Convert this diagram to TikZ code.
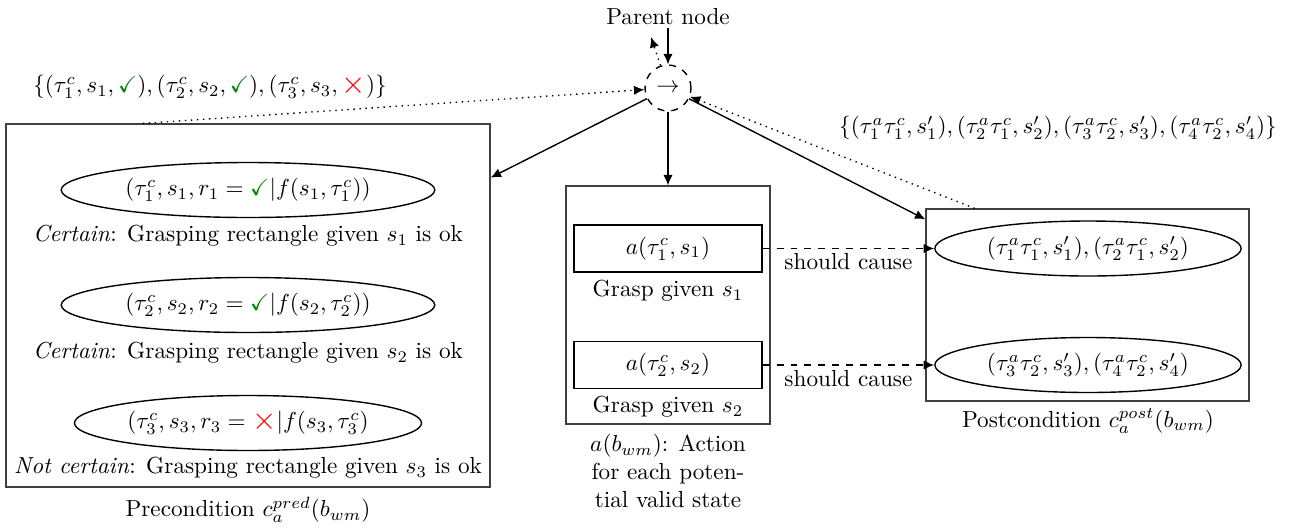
\documentclass[tikz,border=0pt]{standalone}
\usepackage{amssymb}
\usetikzlibrary{arrows.meta,shapes.geometric,calc}
\definecolor{okgreen}{RGB}{0,135,0}
\newcommand{\okmark}{\textcolor{okgreen}{\checkmark}}
\newcommand{\nomark}{\textcolor{red}{\mbox{\raisebox{-0.3pt}{\scalebox{1.35}{$\times$}}}}}
\begin{document}
\begin{tikzpicture}[x=0.431pt,y=-0.431pt,
  outerbox/.style={draw=black!75,line width=0.5pt,rectangle,inner sep=0pt},
  ell/.style={draw,ellipse,semithick,inner sep=0pt,minimum height=23.7pt},
  actbox/.style={draw,rectangle,semithick,inner sep=0pt,minimum width=81pt,minimum height=20.3pt},
  arr/.style={semithick,-{Latex[length=4.5pt,width=4pt]}},
  dotarr/.style={semithick,dotted,-{Latex[length=4.5pt,width=4pt]}},
  dasharr/.style={semithick,dashed,-{Latex[length=4.5pt,width=4pt]}},
  lbl/.style={inner sep=1pt}]
\useasboundingbox (0,0) rectangle (1298,529);

% parent and choice node
\node[lbl] (parent) at (668,17) {Parent node};
\node[draw,circle,dashed,semithick,minimum size=19.8pt,inner sep=0pt] (circ) at (668,88) {$\rightarrow$};
\coordinate (up) at (651,37);

% precondition box
\node[outerbox,minimum width=208.6pt,minimum height=156.5pt] (pre) at (248,305.5) {};
\node[ell,minimum width=161pt] (e1) at (248,190) {$(\tau_1^c, s_1, r_1 = \okmark | f(s_1, \tau_1^c))$};
\node[lbl] (c1) at (248,236) {\textit{Certain}: Grasping rectangle given $s_1$ is ok};
\node[ell,minimum width=161pt] (e2) at (248,305) {$(\tau_2^c, s_2, r_2 = \okmark | f(s_2, \tau_2^c))$};
\node[lbl] (c2) at (248,353) {\textit{Certain}: Grasping rectangle given $s_2$ is ok};
\node[ell,minimum width=149.6pt] (e3) at (248,423) {$(\tau_3^c, s_3, r_3 = \nomark | f(s_3, \tau_3^c)$};
\node[lbl] (c3) at (248,468) {\textit{Not certain}: Grasping rectangle given $s_3$ is ok};
\node[lbl] (prelbl) at (248,510) {Precondition $c_a^{pred}(b_{wm})$};

% action box
\node[outerbox,minimum width=87.9pt,minimum height=102.6pt] (act) at (668,305) {};
\node[actbox] (r1) at (668,248.5) {$a(\tau_1^c, s_1)$};
\node[lbl] (g1) at (668,291) {Grasp given $s_1$};
\node[actbox] (r2) at (668,365) {$a(\tau_2^c, s_2)$};
\node[lbl] (g2) at (668,407) {Grasp given $s_2$};
\node[lbl,align=center] (actlbl) at (668,471) {$a(b_{wm})$: Action\\for each poten-\\tial valid state};

% postcondition box
\node[outerbox,minimum width=139.2pt,minimum height=82.8pt] (post) at (1087.5,305) {};
\node[ell,minimum width=132pt] (p1) at (1088,248.5) {$(\tau_1^a\tau_1^c, s_1'), (\tau_2^a\tau_1^c, s_2')$};
\node[ell,minimum width=132pt] (p2) at (1088,365) {$(\tau_3^a\tau_2^c, s_3'), (\tau_4^a\tau_2^c, s_4')$};
\node[lbl] (postlbl) at (1088,421) {Postcondition $c_a^{post}(b_{wm})$};

% set labels
\node[lbl] (set1) at (210,87) {$\{(\tau_1^c, s_1, \okmark), (\tau_2^c, s_2, \okmark), (\tau_3^c, s_3, \nomark)\}$};
\node[lbl] (set2) at (1058,128) {$\{(\tau_1^a\tau_1^c, s_1'), (\tau_2^a\tau_1^c, s_2'), (\tau_3^a\tau_2^c, s_3'), (\tau_4^a\tau_2^c, s_4')\}$};

% connectors
\draw[arr] (parent) -- (circ);
\draw[dotarr] (circ) -- (up);
\draw[arr] (circ) -- ($(pre.north east)!0.149!(pre.south east)$);
\draw[arr] (circ) -- (act);
\draw[arr] (circ) -- ($(post.north west)!0.057!(post.south west)$);
\draw[dotarr] ($(pre.north west)!0.283!(pre.north east)$) -- (circ);
\draw[dotarr] ($(post.north west)!0.152!(post.north east)$) -- (circ);
\draw[dasharr] (r1) -- node[below,lbl,yshift=-1pt] {should cause} (p1);
\draw[dasharr] (r2) -- node[below,lbl,yshift=-1pt] {should cause} (p2);
\end{tikzpicture}
\end{document}
